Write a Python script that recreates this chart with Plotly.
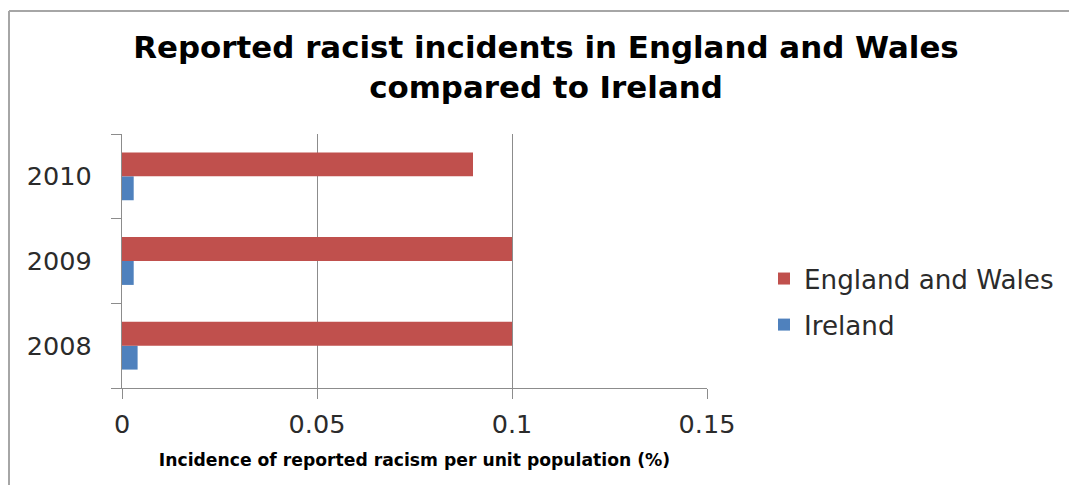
import plotly.graph_objects as go

years = ["2008", "2009", "2010"]
england_wales = [0.1, 0.1, 0.09]
ireland = [0.004, 0.003, 0.003]
x_ticks = [0, 0.05, 0.1, 0.15]
x_tick_labels = ["0", "0.05", "0.1", "0.15"]

RED = "#C0504D"
BLUE = "#4F81BD"
GRID = "#8C8C8C"
FONT = "DejaVu Sans"
TEXT = "#2B2B2B"

fig = go.Figure()
# Ireland first so that, in each group, the England and Wales bar sits above it
fig.add_trace(go.Bar(y=years, x=ireland, orientation="h", name="Ireland",
                     legendgroup="ie", legendrank=2,
                     marker=dict(color=BLUE, line=dict(width=0))))
fig.add_trace(go.Bar(y=years, x=england_wales, orientation="h", name="England and Wales",
                     legendgroup="ew", legendrank=1,
                     marker=dict(color=RED, line=dict(width=0))))

W, H = 1069, 485
L, R, T, B = 122, 362, 134, 97
pw, ph = W - L - R, H - T - B

def px_to_paper_x(px):
    return (px - L) / pw

def px_to_paper_y(py):
    return (H - B - py) / ph

fig.update_layout(
    width=W, height=H,
    margin=dict(l=L, r=R, t=T, b=B, pad=0, autoexpand=False),
    paper_bgcolor="white", plot_bgcolor="white",
    barmode="group", bargap=0.435, bargroupgap=0,
    title=dict(
        text="<b>Reported racist incidents in England and Wales<br>compared to Ireland</b>",
        x=546 / W, xref="container", xanchor="center",
        y=1 - 58 / H, yref="container", yanchor="middle",
        font=dict(family=FONT, size=30.9, color="#000000"),
    ),
    legend=dict(
        x=px_to_paper_x(764), xanchor="left",
        y=px_to_paper_y(302), yanchor="middle",
        traceorder="grouped",
        font=dict(family=FONT, size=26.2, color=TEXT),
        itemwidth=30, tracegroupgap=9,
        bgcolor="rgba(0,0,0,0)",
    ),
    showlegend=True,
    xaxis=dict(
        range=[0, 0.15],
        tickvals=x_ticks, ticktext=x_tick_labels,
        showgrid=True, gridcolor=GRID, gridwidth=1.3,
        zeroline=False,
        showline=True, linecolor=GRID, linewidth=1.3,
        ticks="outside", ticklen=10, tickcolor=GRID, tickwidth=1.3,
        tickfont=dict(family=FONT, size=25.5, color=TEXT),
        ticklabelstandoff=3,
        title=dict(text="<b>Incidence of reported racism per unit population (%)</b>",
                   font=dict(family=FONT, size=17.2, color="#000000"), standoff=16),
        fixedrange=True,
    ),
    yaxis=dict(
        type="category", categoryorder="array", categoryarray=years,
        range=[-0.5, 2.5],
        showgrid=False, zeroline=False,
        showline=True, linecolor=GRID, linewidth=1.3,
        ticks="outside", ticklen=10, tickcolor=GRID, tickwidth=1.3,
        tickson="boundaries",
        tickfont=dict(family=FONT, size=25.5, color=TEXT),
        ticklabelstandoff=24,
        fixedrange=True,
    ),
    shapes=[
        # chart frame: left and top edges
        dict(type="line", xref="paper", yref="paper",
             x0=px_to_paper_x(9), x1=px_to_paper_x(9),
             y0=px_to_paper_y(11), y1=px_to_paper_y(H + 5),
             line=dict(color="#A6A6A6", width=2)),
        dict(type="line", xref="paper", yref="paper",
             x0=px_to_paper_x(9), x1=px_to_paper_x(W + 5),
             y0=px_to_paper_y(11), y1=px_to_paper_y(11),
             line=dict(color="#A6A6A6", width=2)),
    ],
)

fig.write_html("out.html")
